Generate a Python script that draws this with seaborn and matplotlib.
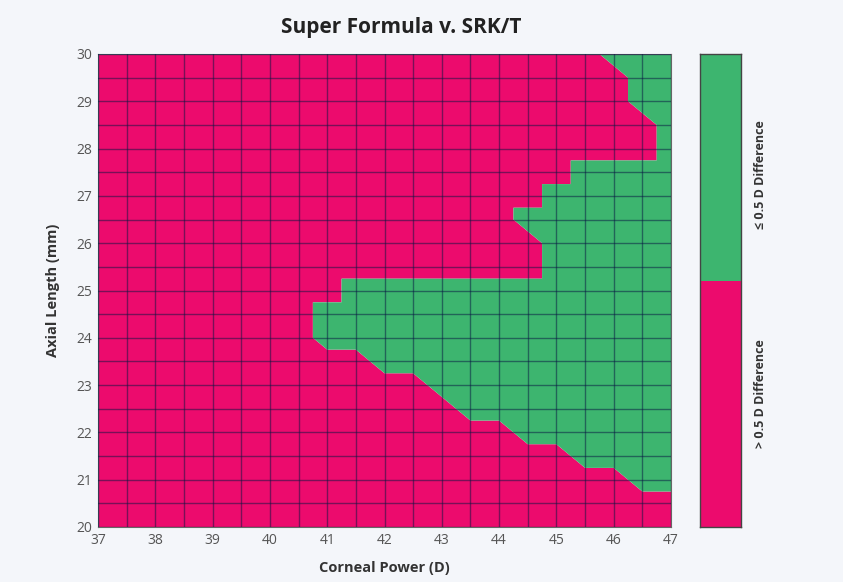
import numpy as np
import matplotlib
matplotlib.use("Agg")
import matplotlib.pyplot as plt
import matplotlib.tri as mtri
from matplotlib.colors import ListedColormap
import seaborn as sns

# sample grid (0.5 D / 0.5 mm steps)
corneal_power = [37.0, 37.5, 38.0, 38.5, 39.0, 39.5, 40.0, 40.5, 41.0, 41.5, 42.0,
                 42.5, 43.0, 43.5, 44.0, 44.5, 45.0, 45.5, 46.0, 46.5, 47.0]
axial_length = [20.0, 20.5, 21.0, 21.5, 22.0, 22.5, 23.0, 23.5, 24.0, 24.5, 25.0,
                25.5, 26.0, 26.5, 27.0, 27.5, 28.0, 28.5, 29.0, 29.5, 30.0]
# per axial length row: index of the first corneal power where the two formulas
# agree within 0.5 D (agreement then runs to the right edge); 21 = none
first_agree_idx = [21, 21, 19, 17, 15, 13, 12, 10, 8, 8, 9,
                   16, 16, 15, 16, 17, 20, 20, 19, 19, 18]

xtick_vals = [37, 38, 39, 40, 41, 42, 43, 44, 45, 46, 47]
ytick_vals = [20, 21, 22, 23, 24, 25, 26, 27, 28, 29, 30]
legend_labels = ["\u2264 0.5 D Difference", "> 0.5 D Difference"]

pink = "#EC0B6D"
green = "#3DB56F"
bg = "#F4F6FA"

sns.set_theme(style="white")
plt.rcParams["font.family"] = ["Open Sans", "DejaVu Sans"]

nx, ny = len(corneal_power), len(axial_length)
agree = np.zeros((ny, nx))
for j, start in enumerate(first_agree_idx):
    agree[j, start:] = 1

# triangulate each cell along the top-left / bottom-right diagonal
X, Y = np.meshgrid(corneal_power, axial_length)
tris = []
for j in range(ny - 1):
    for i in range(nx - 1):
        bl, br = j * nx + i, j * nx + i + 1
        tl, tr = (j + 1) * nx + i, (j + 1) * nx + i + 1
        tris.append([bl, br, tl])
        tris.append([br, tr, tl])
triang = mtri.Triangulation(X.ravel(), Y.ravel(), tris)

fig = plt.figure(figsize=(8.43, 5.82), dpi=100, facecolor=bg)
ax = fig.add_axes([98 / 843, 55 / 582, 573 / 843, 473 / 582])
ax.tricontourf(triang, agree.ravel(), levels=[-0.5, 0.5, 1.5],
               colors=[pink, green], antialiased=True)

ax.set_xlim(37, 47)
ax.set_ylim(20, 30)
ax.set_xticks(xtick_vals)
ax.set_yticks(ytick_vals)
ax.set_xticks(corneal_power, minor=True)
ax.set_yticks(axial_length, minor=True)
ax.grid(which="both", color="#081543", alpha=0.5, linewidth=1.0)
ax.set_axisbelow(False)
ax.tick_params(which="both", length=0, labelsize=10, labelcolor="#555555", pad=4)
for s in ax.spines.values():
    s.set_color("#666666")
    s.set_linewidth(0.8)

ax.set_xlabel("Corneal Power (D)", fontsize=10.5, fontweight="bold",
              color="#333333", labelpad=10)
ax.set_ylabel("Axial Length (mm)", fontsize=10.5, fontweight="bold",
              color="#333333", labelpad=12)
fig.text(401 / 843, 1 - 27 / 582, "Super Formula v. SRK/T", ha="center",
         va="center", fontsize=15, fontweight="bold", color="#222222")

# two-class colour bar (green block a little shorter than the pink one)
cax = fig.add_axes([700 / 843, 55 / 582, 41 / 843, 473 / 582])
sns.heatmap([[1], [0]], ax=cax, cmap=ListedColormap([pink, green]),
            vmin=0, vmax=1, cbar=False, xticklabels=False,
            yticklabels=legend_labels)
cax.set_ylim(2, 0.08)
cax.set_yticks([0.57, 1.46], legend_labels)
cax.yaxis.tick_right()
cax.tick_params(length=0, pad=9)
for lab in cax.get_yticklabels():
    lab.set_rotation(90)
    lab.set_va("center")
    lab.set_fontsize(9)
    lab.set_fontweight("bold")
    lab.set_color("#333333")
for s in cax.spines.values():
    s.set_visible(True)
    s.set_color("#444444")
    s.set_linewidth(1.0)

fig.savefig("out.png", dpi=100, facecolor=bg)
